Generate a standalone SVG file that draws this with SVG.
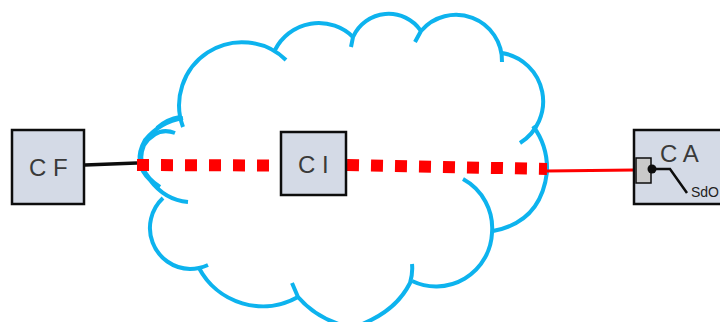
<svg xmlns="http://www.w3.org/2000/svg" width="720" height="322" viewBox="0 0 720 322">
<style>
.box{fill:#d4dae6;stroke:#0d0d0d;stroke-width:2.5}
.lbl{font-family:"Liberation Sans",Arial,sans-serif;font-size:24px;fill:#3a3a3a}
.cloud path{fill:none;stroke:#0db3ee;stroke-width:4;stroke-linecap:butt}
.dash{fill:none;stroke:#ff0000;stroke-width:12;stroke-dasharray:12 12}
</style>
<rect width="720" height="322" fill="#ffffff"/>
<g id="cloud" class="cloud">
<path d="M157,128 Q167,119 180,117"/>
<path d="M183,127 A63,63 0 0 1 286,60"/>
<path d="M275,50 A49,49 0 0 1 353,37"/>
<path d="M351,47 L353,37 A39,39 0 0 1 421,31"/>
<path d="M415,42 L421,31 A46,46 0 0 1 502,62"/>
<path d="M502,53 A49,49 0 0 1 520,143"/>
<path d="M533,126 Q548,146 547,172 Q541,222 493,231"/>
<path d="M463,179 A56,56 0 0 1 492,233 A56,56 0 0 1 412,281"/>
<path d="M412,264 Q413,273 410,283 Q396,311 360,325"/>
<path d="M292,283 L298,297 Q316,318 345,326"/>
<path d="M298,297 A72,72 0 0 1 199,268"/>
<path d="M208,265 Q199,269 190,269 A41,41 0 0 1 163,198"/>
<path d="M183,118 Q160,122 145,140 Q132,163 150,180 Q165,200 188,202"/>
<path d="M175,133 Q157,126 144,145 Q134,170 160,187"/>
</g>
<g id="connectors">
<path d="M85,165 L137,163" fill="none" stroke="#0d0d0d" stroke-width="3.5"/>
<path class="dash" d="M137,165 L270,165.500"/>
<path class="dash" d="M347,165 L547,169"/>
<path d="M547,171 L634,170" fill="none" stroke="#ff0000" stroke-width="3"/>
</g>
<g id="node-cf">
<rect class="box" x="12" y="130" width="72" height="74"/>
<text class="lbl" x="29" y="176">C F</text>
</g>
<g id="node-ci">
<rect class="box" x="281" y="132" width="65" height="63"/>
<text class="lbl" x="298" y="173">C I</text>
</g>
<g id="node-ca">
<rect class="box" x="634" y="130" width="90" height="74"/>
<text class="lbl" x="660" y="162">C A</text>
<rect x="636" y="158" width="15" height="25" fill="#c9c9c9" stroke="#0d0d0d" stroke-width="1.500"/>
<circle cx="652" cy="169" r="4.500" fill="#0d0d0d"/>
<path d="M652,169 L670,169 L687,193" fill="none" stroke="#0d0d0d" stroke-width="2.500"/>
<text x="691" y="197" font-family="Liberation Sans,Arial,sans-serif" font-size="14" fill="#222222">SdO</text>
</g>
</svg>
